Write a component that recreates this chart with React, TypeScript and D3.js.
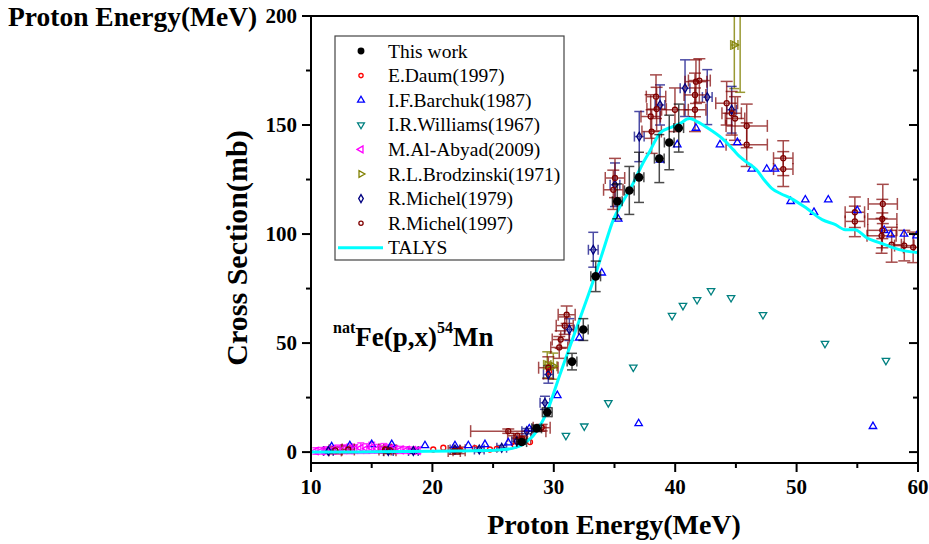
import React from 'react';
import * as d3 from 'd3';

// Axis ticks
const xTicks = [10, 20, 30, 40, 50, 60];
const xMinor = [15, 25, 35, 45, 55];
const yTicks = [0, 50, 100, 150, 200];
const yMinor = [25, 75, 125, 175];

// This work
const thisE = [27.36, 28.59, 29.46, 31.5, 32.43, 33.45, 35.23, 36.22, 37.02, 38.69, 39.51, 40.29];
const thisS = [4.6, 10.9, 18.3, 41.5, 56.2, 80.6, 115, 120, 126, 134.6, 142, 148.6];
const thisDE = [0.4, 0.4, 0.4, 0.4, 0.4, 0.4, 0.4, 0.4, 0.4, 0.4, 0.4, 0.4];
const thisDS = [1.0, 1.5, 2.0, 3.8, 5.0, 7.0, 8.0, 11, 11.5, 11, 12.5, 11];

// E.Daum (1997)
const daumE = [20.07, 20.9, 22.3, 23.5, 24.74, 25.3, 26.8, 28.04, 29.0, 29.6];
const daumS = [1.2, 2.0, 1.0, 1.8, 1.2, 1.5, 3.0, 4.6, 11.5, 37];

// I.F.Barchuk (1987)
const barchukE = [11.7, 13.2, 15.0, 16.65, 19.39, 21.86, 22.96, 24.33, 26.25, 27.98, 30.29, 32.1, 33.95, 35.31, 36.99, 38.75, 40.17, 41.71, 43.69, 45.12, 46.3, 47.54, 48.22, 49.51, 50.72, 51.43, 52.61, 55.0, 56.29, 57.22, 57.75, 58.85, 59.89];
const barchukS = [2.5, 3.0, 3.5, 3.5, 3.0, 3.0, 3.0, 3.5, 4.3, 10.7, 26, 52.4, 82.2, 106.9, 13.1, 134, 141, 148.6, 141, 142, 129.8, 129.8, 129.8, 115, 115.7, 110, 115.7, 110.8, 11.8, 101.7, 99.7, 100, 99.2];

// I.R.Williams (1967)
const williamsE = [31.0, 32.51, 34.49, 36.55, 39.74, 40.64, 41.8, 42.95, 44.6, 47.23, 52.34, 57.36];
const williamsS = [7.6, 11.9, 22.6, 38.9, 62.6, 67.2, 69.9, 74, 70.8, 63, 49.8, 42];

// M.Al-Abyad (2009)
const abyadE = [10.4, 10.9, 11.3, 11.8, 12.2, 12.7, 13.2, 13.6, 14.1, 14.6, 15.0, 15.5, 16.0, 16.5, 16.9, 17.4, 17.9, 18.4, 18.8];
const abyadS = [0.5, 0.6, 0.8, 1.0, 1.2, 1.3, 1.5, 1.4, 1.8, 1.6, 2.0, 1.5, 1.7, 1.4, 1.2, 1.0, 0.9, 0.8, 0.7];
const abyadDS = [1.5, 1.5, 1.6, 1.8, 2.0, 2.0, 2.2, 2.0, 2.4, 2.2, 2.5, 2.0, 2.2, 2.0, 1.8, 1.6, 1.5, 1.5, 1.4];

// R.L.Brodzinski (1971)
const brodE = [29.46, 29.96, 44.87, 45.35];
const brodS = [40, 39.4, 186.7, 235];
const brodDE = [0.3, 0.3, 0.3, 0.3];
const brodDS = [6, 6, 20, 70];

// R.Michel (1979)
const michel79E = [11.43, 16.37, 18.43, 21.86, 23.86, 25.71, 26.94, 27.77, 29.27, 29.55, 31.28, 33.25, 35.04, 37.04, 38.75, 40.81, 42.64, 44.65];
const michel79S = [0.5, 0.5, 0.5, 1.2, 1.2, 2.0, 5.0, 9.6, 22.6, 35.6, 56.2, 92.8, 122.6, 144.7, 159.2, 166.9, 162.8, 157];
const michel79DE = [0.4, 0.4, 0.4, 0.4, 0.4, 0.4, 0.4, 0.4, 0.4, 0.4, 0.4, 0.4, 0.4, 0.4, 0.4, 0.4, 0.4, 0.4];
const michel79DS = [1.0, 1.0, 1.0, 1.0, 1.0, 1.0, 1.0, 1.2, 3.0, 4.0, 5.0, 8.0, 10, 11.5, 9.2, 13, 12.6, 10.7];

// R.Michel (1997)
const michel97E = [12.0, 13.07, 16.1, 16.5, 21.8, 22.2, 26.25, 27.0, 27.4, 29.0, 29.55, 30.45, 30.57, 30.9, 31.06, 34.9, 35.04, 37.98, 38.06, 38.42, 38.47, 39.98, 41.63, 41.63, 41.71, 41.99, 44.24, 44.65, 44.93, 45.89, 45.89, 48.9, 48.9, 54.8, 54.8, 57.1, 57.06, 57.06, 57.0, 57.83, 58.87, 59.6];
const michel97S = [0.8, 1.2, 1.2, 0.8, 0.5, 0.8, 9.6, 7.5, 6.0, 11.2, 38.7, 48, 51.6, 58, 63, 120.3, 125.7, 153.9, 147, 163, 157.3, 157, 163.8, 157, 169.9, 170.4, 160, 155.4, 153, 149.6, 141, 134.8, 129.8, 110, 105.8, 113.8, 106.9, 101.7, 99.2, 95.1, 94.7, 93.9];
const michel97DE = [0.5, 0.5, 0.5, 0.5, 0.5, 0.5, 3.1, 0.8, 0.7, 0.7, 0.8, 0.7, 0.7, 0.7, 0.7, 0.8, 0.8, 0.8, 0.8, 0.8, 0.8, 1.1, 0.9, 0.9, 0.9, 0.9, 0.9, 0.8, 0.8, 1.7, 1.7, 0.8, 0.8, 0.8, 0.8, 1.2, 1.2, 1.2, 1.2, 0.8, 0.8, 0.8];
const michel97DS = [1.5, 1.5, 1.5, 1.5, 1.5, 1.5, 1.0, 1.0, 1.0, 1.5, 5, 5, 4, 4, 4, 9, 9, 10, 10, 10, 10, 10, 10, 10, 10, 10, 10, 10, 10, 10, 10, 8, 8, 7, 7, 9, 9, 8, 8, 8, 7, 7];

// TALYS calculation
const talysE = [10, 14, 18, 22, 24, 25.5, 26.5, 27.3, 27.8, 28.3, 28.8, 29.4, 30.5, 31.3, 32.2, 33.4, 34.1, 34.9, 35.7, 36.55, 37.2, 37.9, 38.75, 39.8, 40.5, 40.95, 41.2, 41.8, 42.9, 44.0, 44.8, 45.3, 46.0, 46.7, 47.3, 47.95, 48.7, 49.5, 50.8, 52.1, 53.2, 54.0, 54.8, 55.8, 56.9, 57.8, 58.8, 60];
const talysS = [0, 0.1, 0.3, 0.5, 0.7, 1.0, 1.6, 3.0, 5.0, 7.5, 11.5, 18, 35.5, 48, 62, 81, 93, 106.5, 115, 123.4, 131, 137.9, 146.3, 149.3, 151, 152.7, 153, 151.6, 147.8, 143.2, 138.6, 135.6, 132.5, 129.5, 125, 121, 118.5, 116.5, 111.9, 106.6, 104.3, 102, 102, 98.2, 95.9, 94, 92.4, 91.5];

const legendNames = ['This work', 'E.Daum(1997)', 'I.F.Barchuk(1987)', 'I.R.Williams(1967)', 'M.Al-Abyad(2009)', 'R.L.Brodzinski(1971)', 'R.Michel(1979)', 'R.Michel(1997)', 'TALYS'];

type Shape = 'dot' | 'circle' | 'up' | 'down' | 'left' | 'right' | 'diamond';

interface Series {
  name: string;
  color: string;
  shape: Shape;
  E: number[];
  S: number[];
  dE?: number[];
  dS?: number[];
  cap: number;
  barOpacity: number;
}

const SERIF = '"Liberation Serif", "Times New Roman", serif';

function Marker({ shape, color, cx, cy, scale = 1 }: { shape: Shape; color: string; cx: number; cy: number; scale?: number }) {
  if (shape === 'dot') return <circle cx={cx} cy={cy} r={4.3 * scale} fill="#000" />;
  if (shape === 'circle') return <circle cx={cx} cy={cy} r={2.5 * scale} fill="none" stroke={color} strokeWidth={1.3} />;
  const sym = shape === 'diamond' ? d3.symbolDiamond : d3.symbolTriangle;
  const size = shape === 'diamond' ? 22 * scale : 24 * scale;
  const rot = shape === 'down' ? 180 : shape === 'left' ? -90 : shape === 'right' ? 90 : 0;
  const path = d3.symbol(sym, size)() || '';
  return <path d={path} transform={`translate(${cx},${cy}) rotate(${rot})`} fill="none" stroke={color} strokeWidth={1.3} />;
}

export default function App() {
  const x = d3.scaleLinear().domain([10, 60]).range([311, 918]);
  const y = d3.scaleLinear().domain([-5, 200]).range([463, 16]);

  const series: Series[] = [
    { name: legendNames[1], color: '#ff0000', shape: 'circle', E: daumE, S: daumS, cap: 0, barOpacity: 1 },
    { name: legendNames[2], color: '#0000ff', shape: 'up', E: barchukE, S: barchukS, cap: 0, barOpacity: 1 },
    { name: legendNames[3], color: '#008080', shape: 'down', E: williamsE, S: williamsS, cap: 0, barOpacity: 1 },
    { name: legendNames[4], color: '#ff00ff', shape: 'left', E: abyadE, S: abyadS, dS: abyadDS, cap: 3.5, barOpacity: 0.8 },
    { name: legendNames[5], color: '#808000', shape: 'right', E: brodE, S: brodS, dE: brodDE, dS: brodDS, cap: 5, barOpacity: 0.8 },
    { name: legendNames[6], color: '#000080', shape: 'diamond', E: michel79E, S: michel79S, dE: michel79DE, dS: michel79DS, cap: 5, barOpacity: 0.7 },
    { name: legendNames[7], color: '#800000', shape: 'circle', E: michel97E, S: michel97S, dE: michel97DE, dS: michel97DS, cap: 6, barOpacity: 0.7 },
  ];
  const thisWork: Series = { name: legendNames[0], color: '#000', shape: 'dot', E: thisE, S: thisS, dE: thisDE, dS: thisDS, cap: 5, barOpacity: 0.7 };

  const talysLine = d3.line<number>()
    .x((_, i) => x(talysE[i]))
    .y((d) => y(d))
    .curve(d3.curveMonotoneX)(talysS) || '';

  const errorBars = (s: Series) =>
    s.E.map((e, i) => {
      const cx = x(e);
      const cy = y(s.S[i]);
      const parts: React.ReactNode[] = [];
      if (s.dS) {
        const y0 = y(s.S[i] - s.dS[i]);
        const y1 = y(s.S[i] + s.dS[i]);
        parts.push(<line key="v" x1={cx} x2={cx} y1={y0} y2={y1} />);
        parts.push(<line key="c0" x1={cx - s.cap} x2={cx + s.cap} y1={y0} y2={y0} />);
        parts.push(<line key="c1" x1={cx - s.cap} x2={cx + s.cap} y1={y1} y2={y1} />);
      }
      if (s.dE) {
        const x0 = x(e - s.dE[i]);
        const x1 = x(e + s.dE[i]);
        parts.push(<line key="h" x1={x0} x2={x1} y1={cy} y2={cy} />);
        parts.push(<line key="d0" x1={x0} x2={x0} y1={cy - s.cap} y2={cy + s.cap} />);
        parts.push(<line key="d1" x1={x1} x2={x1} y1={cy - s.cap} y2={cy + s.cap} />);
      }
      return (
        <g key={i} stroke={s.color} strokeWidth={1.5} opacity={s.barOpacity}>
          {parts}
        </g>
      );
    });

  const markers = (s: Series) =>
    s.E.map((e, i) => <Marker key={i} shape={s.shape} color={s.color} cx={x(e)} cy={y(s.S[i])} />);

  const legendRows: { name: string; color: string; shape: Shape | 'line' }[] = [
    { name: legendNames[0], color: '#000', shape: 'dot' },
    ...series.map((s) => ({ name: s.name, color: s.color, shape: s.shape as Shape | 'line' })),
    { name: legendNames[8], color: '#00ffff', shape: 'line' },
  ];

  const tickFont = { fontFamily: SERIF, fontWeight: 700, fontSize: 21 } as const;

  return (
    <svg width={929} height={544} style={{ position: 'absolute', left: 0, top: 0, background: '#fff' }}>
      <defs>
        <clipPath id="plotClip">
          <rect x={311} y={16} width={607} height={447} />
        </clipPath>
      </defs>
      <rect x={0} y={0} width={929} height={544} fill="#fff" />

      <g clipPath="url(#plotClip)">
        {series.map((s) => (
          <g key={s.name + '-bars'}>{errorBars(s)}</g>
        ))}
        {series.map((s) => (
          <g key={s.name + '-pts'}>{markers(s)}</g>
        ))}
        <path d={talysLine} fill="none" stroke="#00ffff" strokeWidth={3} />
        {errorBars(thisWork)}
        {markers(thisWork)}
      </g>

      {/* frame */}
      <g stroke="#000" strokeWidth={2} fill="none">
        <line x1={311} x2={311} y1={16} y2={463} />
        <line x1={311} x2={918} y1={463} y2={463} />
        <line x1={311} x2={918} y1={16} y2={16} />
        <line x1={918} x2={918} y1={16} y2={463} />
      </g>

      {/* axis ticks */}
      <g stroke="#000" strokeWidth={2}>
        {xTicks.map((t) => (
          <line key={'xt' + t} x1={x(t)} x2={x(t)} y1={463} y2={472} />
        ))}
        {xMinor.map((t) => (
          <line key={'xm' + t} x1={x(t)} x2={x(t)} y1={463} y2={468} />
        ))}
        {yTicks.map((t) => (
          <line key={'yt' + t} x1={302} x2={311} y1={y(t)} y2={y(t)} />
        ))}
        {yMinor.map((t) => (
          <line key={'ym' + t} x1={306} x2={311} y1={y(t)} y2={y(t)} />
        ))}
        {yTicks.map((t) => (
          <line key={'yr' + t} x1={909} x2={918} y1={y(t)} y2={y(t)} />
        ))}
        {yMinor.map((t) => (
          <line key={'yrm' + t} x1={913} x2={918} y1={y(t)} y2={y(t)} />
        ))}
      </g>

      {xTicks.map((t) => (
        <text key={'xl' + t} x={x(t)} y={494} textAnchor="middle" {...tickFont}>
          {t}
        </text>
      ))}
      {yTicks.map((t) => (
        <text key={'yl' + t} x={297} y={y(t) + 7} textAnchor="end" {...tickFont}>
          {t}
        </text>
      ))}

      {/* axis titles */}
      <text x={8} y={26} fontFamily={SERIF} fontWeight={700} fontSize={27.5}>
        Proton Energy(MeV)
      </text>
      <text x={614} y={534} textAnchor="middle" fontFamily={SERIF} fontWeight={700} fontSize={28}>
        Proton Energy(MeV)
      </text>
      <text
        transform="translate(247,248) rotate(-90)"
        textAnchor="middle"
        fontFamily={SERIF}
        fontWeight={700}
        fontSize={30}
      >
        Cross Section(mb)
      </text>

      {/* reaction label */}
      <text x={333} y={346} fontFamily={SERIF} fontWeight={700} fontSize={27}>
        <tspan fontSize={16} dy={-13}>nat</tspan>
        <tspan dy={13}>Fe(p,x)</tspan>
        <tspan fontSize={16} dy={-13}>54</tspan>
        <tspan dy={13}>Mn</tspan>
      </text>

      {/* legend */}
      <rect x={335} y={36} width={229} height={224} fill="#fff" stroke="#444" strokeWidth={1.2} />
      {legendRows.map((r, i) => {
        const cy = 51 + i * 24.6;
        return (
          <g key={r.name}>
            {r.shape === 'line' ? (
              <line x1={338} x2={383} y1={cy} y2={cy} stroke={r.color} strokeWidth={3} />
            ) : (
              <Marker shape={r.shape} color={r.color} cx={361} cy={cy} scale={r.shape === 'dot' ? 0.8 : 0.85} />
            )}
            <text x={388} y={cy + 6.5} fontFamily={SERIF} fontSize={19.5}>
              {r.name}
            </text>
          </g>
        );
      })}
    </svg>
  );
}
